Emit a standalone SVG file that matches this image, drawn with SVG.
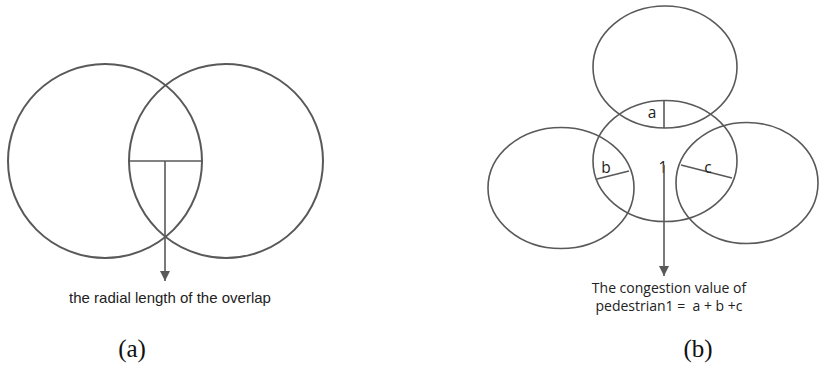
<svg xmlns="http://www.w3.org/2000/svg" width="819" height="368" viewBox="0 0 819 368">
<style>
.c{fill:none;stroke:#595959;stroke-width:2}
.e{fill:none;stroke:#595959;stroke-width:1.6}
.l{stroke:#595959;stroke-width:1.6;fill:none}
.t1{font-family:"Liberation Sans",Arial,sans-serif;font-size:15px;fill:#222}
.t2{font-family:"Open Sans","Liberation Sans",sans-serif;font-size:14px;fill:#222}
.t3{font-family:"Open Sans","Liberation Sans",sans-serif;font-size:15.5px;fill:#222}
.cap{font-family:"Liberation Serif","Times New Roman",serif;font-size:25px;fill:#111}
</style>
<defs>
<marker id="ah" viewBox="0 0 10 10" refX="10" refY="5" markerWidth="10" markerHeight="10" markerUnits="userSpaceOnUse" orient="auto">
<path d="M0,0 L10,5 L0,10 z" fill="#595959"/>
</marker>
</defs>
<g id="circleA1"><circle class="c" cx="105" cy="161" r="97"/></g>
<g id="circleA2"><circle class="c" cx="226" cy="161" r="97"/></g>
<g id="ellTop"><ellipse class="e" cx="665" cy="67" rx="72" ry="61"/></g>
<g id="ellCenter"><ellipse class="e" cx="665" cy="161" rx="72" ry="60.5"/><text class="t3" x="663" y="173" text-anchor="middle">1</text></g>
<g id="ellLeft"><ellipse class="e" cx="561" cy="188" rx="73" ry="60.5"/></g>
<g id="ellRight"><ellipse class="e" cx="747" cy="183" rx="71" ry="60.5"/></g>
<g id="connectors">
<line class="l" x1="128" y1="161" x2="202" y2="161"/>
<line class="l" x1="165" y1="161" x2="165" y2="281" marker-end="url(#ah)"/>
<line class="l" x1="664" y1="100" x2="664" y2="128"/>
<line class="l" x1="597" y1="179" x2="629" y2="171"/>
<line class="l" x1="681" y1="165" x2="732" y2="178"/>
<line class="l" x1="664" y1="165" x2="664" y2="276" marker-end="url(#ah)"/>
</g>
<g id="labels">
<text class="t3" x="652" y="118" text-anchor="middle">a</text>
<text class="t3" x="606" y="173" text-anchor="middle">b</text>
<text class="t3" x="708" y="173" text-anchor="middle">c</text>
<text class="t1" x="170" y="303" text-anchor="middle">the radial length of the overlap</text>
<text class="t2" x="669" y="293" text-anchor="middle">The congestion value of</text>
<text class="t2" x="669" y="311" text-anchor="middle" xml:space="preserve">pedestrian1 =  a + b +c</text>
<text class="cap" x="132" y="357" text-anchor="middle">(a)</text>
<text class="cap" x="698" y="357" text-anchor="middle">(b)</text>
</g>
</svg>
